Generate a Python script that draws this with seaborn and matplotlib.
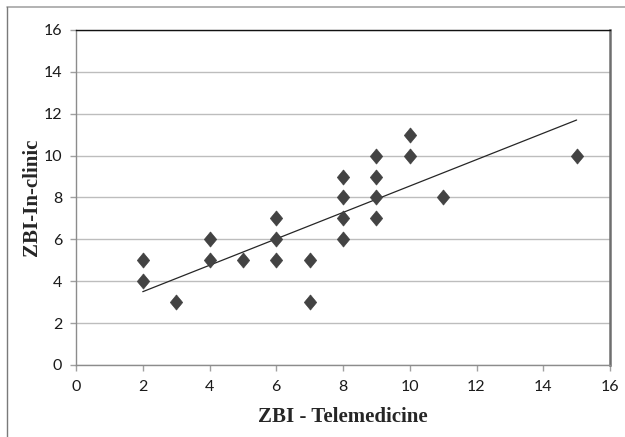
import pandas as pd
import seaborn as sns
import matplotlib.pyplot as plt
from matplotlib.lines import Line2D

# ZBI scores, one entry per patient
telemedicine = [2, 2, 3, 4, 4, 5, 6, 6, 6, 7, 7, 8, 8, 8, 8, 9, 9, 9, 9, 10, 10, 11, 15]
in_clinic = [5, 4, 3, 6, 5, 5, 7, 6, 5, 5, 3, 9, 8, 7, 6, 10, 9, 8, 7, 11, 10, 8, 10]
ticks = [0, 2, 4, 6, 8, 10, 12, 14, 16]

# linear trendline ends
trend_x = [2, 15]
trend_y = [3.5, 11.7]

df = pd.DataFrame({"tele": telemedicine, "clinic": in_clinic})

sns.set_style("white")
plt.rcParams["font.family"] = ["Lato", "DejaVu Sans"]

fig = plt.figure(figsize=(6.25, 4.37), dpi=100)
ax = fig.add_axes([0.1216, 0.1648, 0.8544, 0.7666])

sns.lineplot(x=trend_x, y=trend_y, color="#262626", lw=0.9, ax=ax, zorder=2)
# slightly tall diamond like the original marker
diamond = [(0, 1), (0.82, 0), (0, -1), (-0.82, 0), (0, 1)]
sns.scatterplot(data=df, x="tele", y="clinic", marker=diamond, s=120,
                color="#434343", edgecolor="#3a3a3a", linewidth=0.4, ax=ax, zorder=3)

ax.set_xlim(0, 16)
ax.set_ylim(0, 16)
ax.set_xticks(ticks)
ax.set_yticks(ticks)
ax.yaxis.grid(True, color="#bdbdbd", lw=1.0)
ax.set_axisbelow(True)
ax.tick_params(axis="both", direction="out", length=4, width=1, color="#a0a0a0",
               labelsize=11.5, labelcolor="#1a1a1a", bottom=True, left=True)
ax.tick_params(axis="y", pad=6)
ax.tick_params(axis="x", pad=7)

for side in ["left", "bottom"]:
    ax.spines[side].set_color("#8c8c8c")
    ax.spines[side].set_linewidth(1.0)
ax.spines["top"].set_color("#111111")
ax.spines["top"].set_linewidth(1.0)
ax.spines["right"].set_color("#6e6e6e")
ax.spines["right"].set_linewidth(1.8)

ax.set_xlabel("ZBI - Telemedicine", family="Liberation Serif", fontweight="bold",
              fontsize=15)
ax.set_ylabel("ZBI-In-clinic", family="Liberation Serif", fontweight="bold",
              fontsize=15)
ax.xaxis.set_label_coords(0.5, -0.125)
ax.yaxis.set_label_coords(-0.064, 0.5)

# outer chart frame (top and left edges visible)
fig.add_artist(Line2D([7 / 625, 1], [1 - 7 / 437, 1 - 7 / 437], color="#a6a6a6", lw=1.2))
fig.add_artist(Line2D([7 / 625, 7 / 625], [0, 1 - 7 / 437], color="#7a7a7a", lw=1.0))

fig.savefig("out.png", dpi=100)
